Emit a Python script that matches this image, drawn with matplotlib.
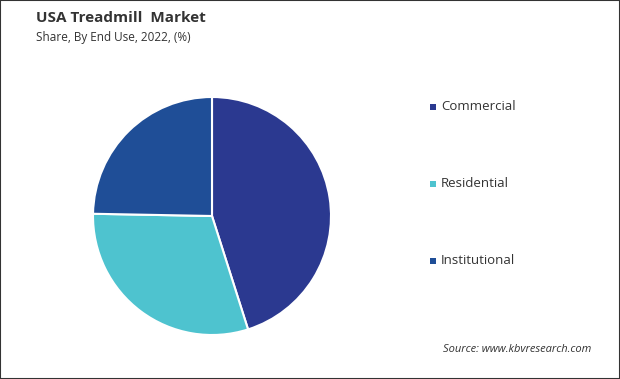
import matplotlib.pyplot as plt
from matplotlib.patches import Rectangle

# Datos
categorias = ['Commercial', 'Residential', 'Institutional']
valores = [45.1, 30.2, 24.7]
colores = ['#2b3990', '#4ec3cf', '#1f4e97']

fig = plt.figure(figsize=(6.2, 3.79), dpi=100)
plt.rcParams['font.family'] = ['Open Sans', 'DejaVu Sans']

# Pie: centro ~ (212, 216) px, radio ~ 119 px
ax = fig.add_axes([(212 - 119) / 620, (379 - 216 - 119) / 379, 238 / 620, 238 / 379])
ax.pie(valores, colors=colores, startangle=90, counterclock=False,
       wedgeprops=dict(edgecolor='white', linewidth=1.5))
ax.set_xlim(-1, 1)
ax.set_ylim(-1, 1)
ax.set_aspect('equal')

# Titulos
fig.text(36 / 620, 1 - 18.5 / 379, 'USA Treadmill  Market', fontsize=11, fontweight='bold',
         color='#333333', va='center', ha='left')
fig.text(36 / 620, 1 - 38 / 379, 'Share, By End Use, 2022, (%)', fontsize=8.5,
         color='#333333', va='center', ha='left')

# Leyenda manual
ys = [107, 184, 261]
for cat, col, y in zip(categorias, colores, ys):
    fig.patches.append(Rectangle((430 / 620, 1 - (y + 3) / 379), 6 / 620, 6 / 379,
                                 transform=fig.transFigure, facecolor=col, edgecolor='none'))
    fig.text(441 / 620, 1 - y / 379, cat, fontsize=9.5, color='#333333',
             va='center', ha='left')

fig.text(443 / 620, 1 - 349 / 379, 'Source: www.kbvresearch.com', fontsize=8,
         style='italic', color='#333333', va='center', ha='left')

# Marco
fig.patches.append(Rectangle((0, 0), 1, 1, transform=fig.transFigure, fill=False,
                             edgecolor='#333333', linewidth=1.5))

fig.savefig('out.png', dpi=100)
